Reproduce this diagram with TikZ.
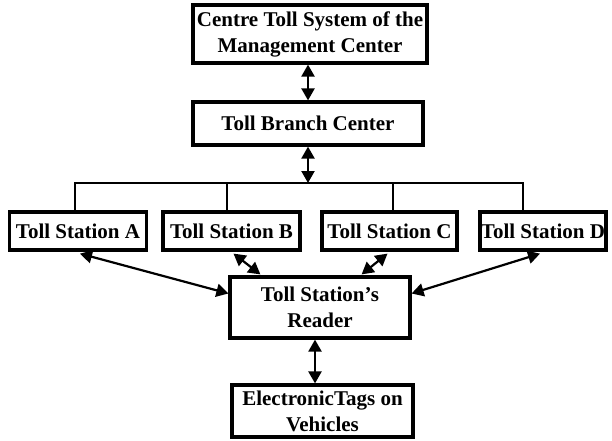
\documentclass[tikz,border=0pt]{standalone}
\usepackage{fontspec}
\setmainfont{Liberation Serif}
\usetikzlibrary{arrows.meta,calc}
\begin{document}
\begin{tikzpicture}[x=1pt,y=-1pt,
  box/.style={draw,line width=3.2pt,rectangle,inner sep=0pt,align=center,
    font=\fontsize{21}{26}\selectfont\bfseries},
  conn/.style={line width=2.2pt},
  dbl/.style={conn,{Triangle[length=12pt,width=13pt]}-{Triangle[length=12pt,width=13pt]}}]
\useasboundingbox (0,0) rectangle (612,440);
\node[box,minimum width=234pt,minimum height=58pt] (top) at (310,34) {Centre Toll System of the\\Management Center};
\node[box,minimum width=230pt,minimum height=43pt] (branch) at (308,123.5) {Toll Branch Center};
\node[box,minimum width=137pt,minimum height=38pt] (A) at (78,231) {Toll Station A};
\node[box,minimum width=137pt,minimum height=38pt] (B) at (231.5,231) {Toll Station B};
\node[box,minimum width=135pt,minimum height=38pt] (C) at (389.5,231) {Toll Station C};
\node[box,minimum width=126pt,minimum height=38pt] (D) at (543,231) {Toll Station D};
\node[box,minimum width=180pt,minimum height=61pt] (reader) at (320,307.5) {Toll Station’s\\Reader};
\node[box,minimum width=181pt,minimum height=52pt] (tags) at (322.5,411) {ElectronicTags on\\Vehicles};
\coordinate (busL) at (75,183);
\coordinate (busR) at (523,183);
\coordinate (busM) at (308,183);
\draw[dbl] (top.south -| branch.north) -- (branch.north);
\draw[dbl] (branch.south) -- (busM);
\draw[conn,line cap=rect] (busL) -- (busR);
\draw[conn] (busL) -- (busL |- A.north);
\draw[conn] (busL -| 227,0) -- (227,212);
\draw[conn] (busL -| 393,0) -- (393,212);
\draw[conn] (busR) -- (busR |- D.north);
\draw[dbl] ($(A.south)+(2,2)$) -- ($(reader.west)+(0,-14)$);
\draw[dbl] ($(D.south)+(-3,2)$) -- ($(reader.east)+(0,-14)$);
\draw[dbl] ($(B.south)+(2,2)$) -- ($(reader.north west)+(32,-1)$);
\draw[dbl] ($(C.south)+(-2,2)$) -- ($(reader.north east)+(-50,-1)$);
\draw[dbl] (reader.south -| 315,0) -- (tags.north -| 315,0);
\end{tikzpicture}
\end{document}
